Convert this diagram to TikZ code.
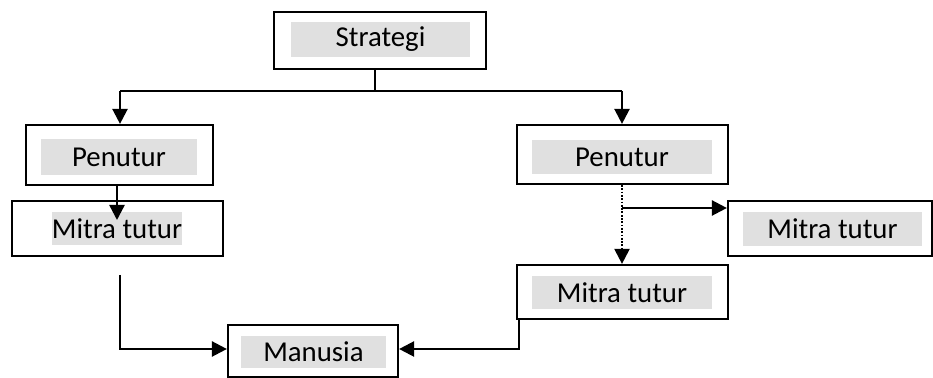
\documentclass[tikz,border=0pt]{standalone}
\usepackage{fontspec}
\setmainfont{Carlito}
\usetikzlibrary{arrows.meta}
\definecolor{boxgray}{RGB}{224,224,224}
\begin{document}
\begin{tikzpicture}[x=0.5pt,y=-0.5pt,
  frame/.style={draw, line width=1.1pt, inner sep=0pt},
  tag/.style={fill=boxgray, inner sep=0pt, font=\fontsize{14.4}{17}\selectfont},
  conn/.style={line width=1.2pt, -{Triangle[length=7.5pt,width=7.5pt]}},
  plainline/.style={line width=1.2pt},
  dotline/.style={line width=1.1pt, dash pattern=on 0.9pt off 0.75pt, -{Triangle[length=7.5pt,width=7.5pt]}}]
\useasboundingbox (0,0) rectangle (933,378);

% boxes
\node[frame, minimum width=106pt, minimum height=28.5pt] (strat) at (380,40.5) {};
\node[tag, minimum width=89.5pt, minimum height=17.5pt] (stratT) at (380.5,39.5) {Strategi};

\node[frame, minimum width=93.5pt, minimum height=30pt] (lpen) at (119.5,155) {};
\node[tag, minimum width=78pt, minimum height=18pt] (lpenT) at (119,157) {Penutur};

\node[frame, minimum width=105.5pt, minimum height=27.5pt] (lmit) at (117.5,228.5) {};
\node[tag, minimum width=65pt, minimum height=16.5pt] (lmitT) at (117,228.5) {Mitra tutur};

\node[frame, minimum width=105.5pt, minimum height=29.5pt] (rpen) at (622.5,154.5) {};
\node[tag, minimum width=90pt, minimum height=17pt] (rpenT) at (622,157) {Penutur};

\node[frame, minimum width=102pt, minimum height=27.5pt] (rmitA) at (830,228.5) {};
\node[tag, minimum width=89.5pt, minimum height=17pt] (rmitAT) at (832.5,229) {Mitra tutur};

\node[frame, minimum width=105.5pt, minimum height=27pt] (rmitB) at (622.5,292) {};
\node[tag, minimum width=90pt, minimum height=16.5pt] (rmitBT) at (622,292.5) {Mitra tutur};

\node[frame, minimum width=85pt, minimum height=26.25pt] (man) at (313,351.25) {};
\node[tag, minimum width=72.5pt, minimum height=16pt] (manT) at (313.5,352) {Manusia};

% connectors
\coordinate (j) at (375,91);
\coordinate (jl) at (120,91);
\coordinate (jr) at (622,91);
\draw[plainline] (strat.south -| j) -- (j);
\draw[plainline] (jl) -- (jr);
\draw[conn] (jl) -- (lpen.north -| jl);
\draw[conn] (jr) -- (rpen.north -| jr);

\coordinate (ltip) at (117,220);
\draw[conn] (lpen.south -| ltip) -- (ltip);

\coordinate (lstart) at (120,275);
\coordinate (lcorner) at (120,349);
\draw[conn] (lstart) -- (lcorner) -- (man.west |- lcorner);

\coordinate (rx) at (622,208);
\draw[dotline] (rpen.south -| rx) -- (rmitB.north -| rx);
\draw[conn] (rx) -- (rmitA.west |- rx);

\coordinate (rb) at (519,349);
\draw[conn] (rmitB.south -| rb) -- (rb) -- (man.east |- rb);
\end{tikzpicture}
\end{document}
